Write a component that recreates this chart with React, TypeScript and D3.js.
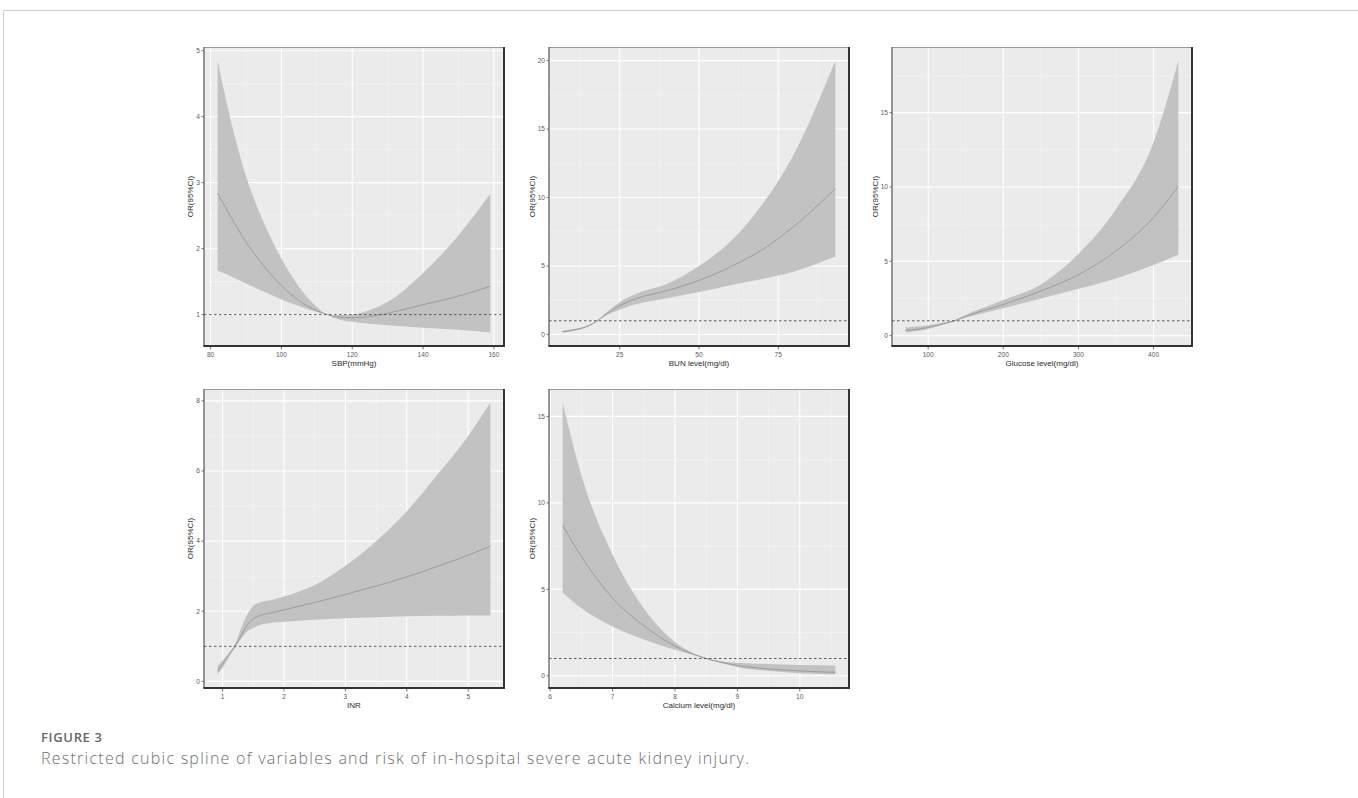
import React from "react";
import * as d3 from "d3";

// SBP panel
const sbpX = [82, 85, 90, 95, 100, 105, 110, 113, 115, 120, 125, 130, 140, 150, 159];
const sbpOR = [2.84, 2.55, 2.1, 1.74, 1.44, 1.21, 1.06, 1.0, 0.97, 0.95, 0.97, 1.02, 1.15, 1.28, 1.43];
const sbpLo = [1.67, 1.6, 1.47, 1.35, 1.23, 1.13, 1.04, 1.0, 0.95, 0.89, 0.86, 0.84, 0.8, 0.77, 0.73];
const sbpHi = [4.85, 4.1, 3.1, 2.4, 1.85, 1.42, 1.12, 1.0, 0.99, 1.0, 1.07, 1.19, 1.63, 2.2, 2.83];

// BUN panel
const bunX = [7, 10, 15, 18, 20, 25, 30, 40, 50, 60, 70, 80, 93];
const bunOR = [0.2, 0.3, 0.62, 1.0, 1.35, 2.1, 2.6, 3.2, 3.95, 4.95, 6.2, 7.9, 10.66];
const bunLo = [0.15, 0.24, 0.58, 0.98, 1.3, 1.8, 2.2, 2.65, 3.1, 3.6, 4.05, 4.6, 5.7];
const bunHi = [0.28, 0.38, 0.68, 1.03, 1.45, 2.35, 2.95, 3.7, 5.0, 6.8, 9.5, 13.2, 20.0];

// Glucose panel
const gluX = [70, 100, 120, 135, 150, 200, 250, 300, 350, 400, 433];
const gluOR = [0.35, 0.55, 0.8, 1.0, 1.3, 2.1, 3.0, 4.1, 5.7, 7.95, 10.05];
const gluLo = [0.22, 0.45, 0.75, 0.97, 1.2, 1.85, 2.5, 3.15, 3.85, 4.75, 5.45];
const gluHi = [0.55, 0.7, 0.88, 1.04, 1.4, 2.4, 3.45, 5.5, 8.5, 13.0, 18.5];

// INR panel
const inrX = [0.92, 1.0, 1.1, 1.2, 1.3, 1.4, 1.5, 1.6, 1.8, 2.0, 2.5, 3.0, 3.5, 4.0, 4.5, 5.0, 5.36];
const inrOR = [0.3, 0.5, 0.75, 1.0, 1.3, 1.6, 1.78, 1.87, 1.96, 2.04, 2.25, 2.48, 2.72, 2.98, 3.28, 3.6, 3.86];
const inrLo = [0.2, 0.38, 0.68, 0.95, 1.2, 1.42, 1.52, 1.6, 1.67, 1.7, 1.76, 1.8, 1.83, 1.86, 1.87, 1.88, 1.88];
const inrHi = [0.45, 0.6, 0.8, 1.05, 1.5, 1.9, 2.15, 2.25, 2.32, 2.42, 2.75, 3.3, 4.0, 4.85, 5.9, 7.0, 7.95];

// Calcium panel
const caX = [6.2, 6.5, 7.0, 7.5, 8.0, 8.5, 9.0, 9.5, 10.0, 10.57];
const caOR = [8.7, 6.9, 4.5, 2.9, 1.72, 1.0, 0.6, 0.4, 0.28, 0.2];
const caLo = [4.8, 3.9, 2.85, 2.1, 1.5, 0.98, 0.5, 0.28, 0.15, 0.08];
const caHi = [15.8, 11.6, 7.0, 3.9, 1.95, 1.03, 0.75, 0.68, 0.63, 0.6];

const sbpXTicks = [80, 100, 120, 140, 160];
const sbpYTicks = [1, 2, 3, 4, 5];
const bunXTicks = [25, 50, 75];
const bunYTicks = [0, 5, 10, 15, 20];
const gluXTicks = [100, 200, 300, 400];
const gluYTicks = [0, 5, 10, 15];
const inrXTicks = [1, 2, 3, 4, 5];
const inrYTicks = [0, 2, 4, 6, 8];
const caXTicks = [6, 7, 8, 9, 10];
const caYTicks = [0, 5, 10, 15];

const yTitle = "OR(95%CI)";
const captionLabel = "FIGURE 3";
const captionText = "Restricted cubic spline of variables and risk of in-hospital severe acute kidney injury.";

const PW = 300;
const PH = 299;
const FONT = "Liberation Sans, Arial, sans-serif";

type PanelProps = {
  left: number;
  top: number;
  xs: number[];
  mid: number[];
  lo: number[];
  hi: number[];
  xTicks: number[];
  yTicks: number[];
  xTitle: string;
};

function expand(vals: number[]): [number, number] {
  const [a, b] = d3.extent(vals) as [number, number];
  const pad = (b - a) * 0.05;
  return [a - pad, b + pad];
}

function minors(ticks: number[], dom: [number, number]) {
  const step = ticks[1] - ticks[0];
  const out: number[] = [];
  for (let i = -1; i < ticks.length; i++) {
    const v = ticks[0] + step * (i + 0.5);
    if (v > dom[0] && v < dom[1]) out.push(v);
  }
  return out;
}

function Panel({ left, top, xs, mid, lo, hi, xTicks, yTicks, xTitle }: PanelProps) {
  const xDom = expand(xs);
  const yDom = expand([...lo, ...hi, 1]);
  const x = d3.scaleLinear().domain(xDom).range([0, PW]);
  const y = d3.scaleLinear().domain(yDom).range([PH, 0]);

  const rows = xs.map((v, i) => ({ x: v, m: mid[i], l: lo[i], h: hi[i] }));
  const area = d3
    .area<any>()
    .x((d) => x(d.x))
    .y0((d) => y(d.l))
    .y1((d) => y(d.h))
    .curve(d3.curveMonotoneX);
  const line = d3
    .line<any>()
    .x((d) => x(d.x))
    .y((d) => y(d.m))
    .curve(d3.curveMonotoneX);

  const xMin = minors(xTicks, xDom);
  const yMin = minors(yTicks, yDom);
  const labLen = d3.max(yTicks, (t) => String(t).length) || 1;

  return (
    <g transform={`translate(${left},${top})`}>
      <rect width={PW} height={PH} fill="#EBEBEB" />
      {xMin.map((t) => (
        <line key={"xm" + t} x1={x(t)} x2={x(t)} y1={0} y2={PH} stroke="#F5F5F5" strokeWidth={0.6} />
      ))}
      {yMin.map((t) => (
        <line key={"ym" + t} x1={0} x2={PW} y1={y(t)} y2={y(t)} stroke="#F5F5F5" strokeWidth={0.6} />
      ))}
      {xTicks.map((t) => (
        <line key={"xg" + t} x1={x(t)} x2={x(t)} y1={0} y2={PH} stroke="#fff" strokeWidth={1.1} />
      ))}
      {yTicks.map((t) => (
        <line key={"yg" + t} x1={0} x2={PW} y1={y(t)} y2={y(t)} stroke="#fff" strokeWidth={1.1} />
      ))}
      <path d={area(rows) || ""} fill="#C2C2C2" />
      <path d={line(rows) || ""} fill="none" stroke="#9C9C9C" strokeWidth={1} />
      <line x1={0} x2={PW} y1={y(1)} y2={y(1)} stroke="#4A4A4A" strokeWidth={0.9} strokeDasharray="2.5,2.5" />

      <line x1={0} x2={PW} y1={0.5} y2={0.5} stroke="#9A9A9A" strokeWidth={1} />
      <line x1={0} x2={0} y1={0} y2={PH} stroke="#555" strokeWidth={1.2} />
      <line x1={PW} x2={PW} y1={0} y2={PH + 1} stroke="#333" strokeWidth={2} />
      <line x1={-0.6} x2={PW + 1} y1={PH} y2={PH} stroke="#333" strokeWidth={2} />

      {xTicks.map((t) => (
        <g key={"xt" + t} transform={`translate(${x(t)},${PH})`}>
          <line y1={1} y2={3.5} stroke="#555" strokeWidth={0.8} />
          <text y={10.5} textAnchor="middle" fontSize={6.6} fill="#5A5A5A" fontFamily={FONT}>
            {t}
          </text>
        </g>
      ))}
      {yTicks.map((t) => (
        <g key={"yt" + t} transform={`translate(0,${y(t)})`}>
          <line x1={-2.5} x2={0} stroke="#555" strokeWidth={0.8} />
          <text x={-4} dy="0.34em" textAnchor="end" fontSize={6.6} fill="#5A5A5A" fontFamily={FONT}>
            {t}
          </text>
        </g>
      ))}
      <text x={PW / 2} y={PH + 19.5} textAnchor="middle" fontSize={8} fill="#2A2A2A" fontFamily={FONT}>
        {xTitle}
      </text>
      <text
        transform={`translate(${-11 - 3 * labLen},${PH / 2}) rotate(-90)`}
        textAnchor="middle"
        dy="0.35em"
        fontSize={8}
        fill="#2A2A2A"
        fontFamily={FONT}
      >
        {yTitle}
      </text>
    </g>
  );
}

export default function App() {
  return (
    <svg
      width={1358}
      height={798}
      style={{ position: "absolute", left: 0, top: 0, background: "#fff" }}
    >
      <line x1={3.5} x2={1358} y1={10.5} y2={10.5} stroke="#CFCFCF" strokeWidth={1} />
      <line x1={3.5} x2={3.5} y1={10} y2={798} stroke="#CFCFCF" strokeWidth={1} />

      <Panel left={204} top={47} xs={sbpX} mid={sbpOR} lo={sbpLo} hi={sbpHi} xTicks={sbpXTicks} yTicks={sbpYTicks} xTitle="SBP(mmHg)" />
      <Panel left={549} top={47} xs={bunX} mid={bunOR} lo={bunLo} hi={bunHi} xTicks={bunXTicks} yTicks={bunYTicks} xTitle="BUN level(mg/dl)" />
      <Panel left={892} top={47} xs={gluX} mid={gluOR} lo={gluLo} hi={gluHi} xTicks={gluXTicks} yTicks={gluYTicks} xTitle="Glucose level(mg/dl)" />
      <Panel left={204} top={389} xs={inrX} mid={inrOR} lo={inrLo} hi={inrHi} xTicks={inrXTicks} yTicks={inrYTicks} xTitle="INR" />
      <Panel left={549} top={389} xs={caX} mid={caOR} lo={caLo} hi={caHi} xTicks={caXTicks} yTicks={caYTicks} xTitle="Calcium level(mg/dl)" />

      <text x={41} y={742} fontSize={13} fontWeight={600} fill="#666" fontFamily="Open Sans, sans-serif" textLength={61} lengthAdjust="spacing">
        {captionLabel}
      </text>
      <text x={41} y={764} fontSize={16} fontWeight={300} fill="#6E6E6E" fontFamily="Open Sans, sans-serif" textLength={708} lengthAdjust="spacing">
        {captionText}
      </text>
    </svg>
  );
}
